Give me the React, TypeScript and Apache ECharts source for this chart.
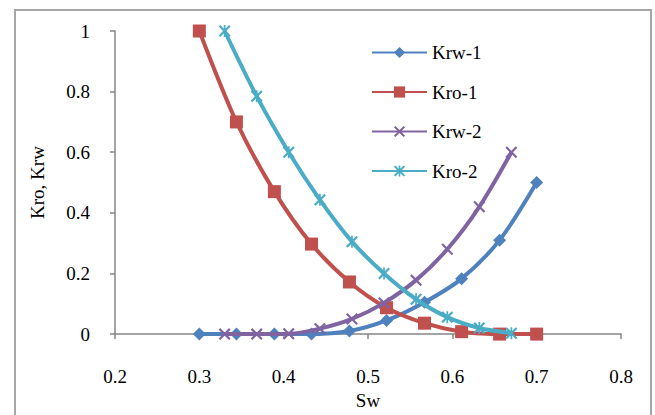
import React, { useEffect, useRef } from "react";
import * as echarts from "echarts";

const sw1 = [0.3, 0.344, 0.389, 0.433, 0.478, 0.522, 0.567, 0.611, 0.656, 0.7];
const krw1 = [0, 0, 0, 0, 0.01, 0.045, 0.105, 0.183, 0.31, 0.5];
const kro1 = [1, 0.7, 0.47, 0.297, 0.172, 0.087, 0.036, 0.008, 0, 0];
const sw2 = [0.33, 0.368, 0.406, 0.443, 0.481, 0.519, 0.557, 0.594, 0.632, 0.67];
const krw2 = [0, 0, 0.001, 0.018, 0.05, 0.103, 0.178, 0.28, 0.42, 0.6];
const kro2 = [1, 0.785, 0.6, 0.443, 0.305, 0.2, 0.115, 0.056, 0.02, 0.003];

const names = ["Krw-1", "Kro-1", "Krw-2", "Kro-2"];
const colors = ["#4F81BD", "#C0504D", "#8064A2", "#4BACC6"];

const X_PATH =
  "path://M0,1.3 L1.3,0 L5,3.7 L8.7,0 L10,1.3 L6.3,5 L10,8.7 L8.7,10 L5,6.3 L1.3,10 L0,8.7 L3.7,5 Z";
const STAR_PATH =
  "path://M0,1.3 L1.3,0 L5,3.7 L8.7,0 L10,1.3 L6.3,5 L10,8.7 L8.7,10 L5,6.3 L1.3,10 L0,8.7 L3.7,5 Z M4.3,0 L5.7,0 L5.7,10 L4.3,10 Z";

const FONT = "Liberation Serif";
const FS = 19;

export default function App() {
  const ref = useRef<HTMLDivElement>(null);
  useEffect(() => {
    document.body.style.margin = "0";
    const chart = echarts.init(ref.current!, null, { renderer: "svg" });
    const zip = (xs: number[], ys: number[]) => xs.map((x, i) => [x, ys[i]]);
    const seriesData = [zip(sw1, krw1), zip(sw1, kro1), zip(sw2, krw2), zip(sw2, kro2)];
    const symbols = ["diamond", "rect", X_PATH, STAR_PATH];
    const sizes = [13, 13, 12, 12];
    chart.setOption({
      animation: false,
      backgroundColor: "#ffffff",
      graphic: [
        {
          type: "rect",
          shape: { x: 15, y: 10, width: 636, height: 420 },
          style: { fill: "none", stroke: "#A6A6A6", lineWidth: 2 },
          silent: true,
        },
      ],
      grid: { left: 115, right: 34, top: 31, bottom: 76 },
      legend: {
        orient: "vertical",
        left: 366,
        top: 38,
        itemWidth: 55,
        itemHeight: 14,
        itemGap: 20.5,
        data: names,
        textStyle: { fontFamily: FONT, fontSize: FS, color: "#000" },
      },
      xAxis: {
        type: "value",
        min: 0.2,
        max: 0.8,
        interval: 0.1,
        name: "Sw",
        nameLocation: "middle",
        nameGap: 56,
        nameTextStyle: { fontFamily: FONT, fontSize: FS, color: "#000" },
        axisLine: { show: true, lineStyle: { color: "#868686", width: 1.5 } },
        axisTick: { show: true, length: 5, lineStyle: { color: "#868686", width: 1.5 } },
        axisLabel: {
          margin: 33,
          fontFamily: FONT,
          fontSize: FS,
          color: "#000",
          formatter: (v: number) => String(Math.round(v * 10) / 10),
        },
        splitLine: { show: false },
      },
      yAxis: {
        type: "value",
        min: 0,
        max: 1,
        interval: 0.2,
        name: "Kro, Krw",
        nameLocation: "middle",
        nameGap: 68,
        nameTextStyle: { fontFamily: FONT, fontSize: FS, color: "#000" },
        axisLine: { show: true, lineStyle: { color: "#868686", width: 1.5 } },
        axisTick: { show: true, length: 5, lineStyle: { color: "#868686", width: 1.5 } },
        axisLabel: {
          margin: 25,
          fontFamily: FONT,
          fontSize: FS,
          color: "#000",
          formatter: (v: number) => String(Math.round(v * 10) / 10),
        },
        splitLine: { show: false },
      },
      series: names.map((n, i) => ({
        name: n,
        type: "line",
        data: seriesData[i],
        smooth: 0.3,
        symbol: symbols[i],
        symbolSize: sizes[i],
        showAllSymbol: true,
        lineStyle: { color: colors[i], width: 4 },
        itemStyle: { color: colors[i], opacity: 1 },
        z: 2 + i,
      })),
    });
    return () => chart.dispose();
  }, []);
  return (
    <div
      ref={ref}
      style={{ position: "absolute", left: 0, top: 0, width: 655, height: 415 }}
    />
  );
}
